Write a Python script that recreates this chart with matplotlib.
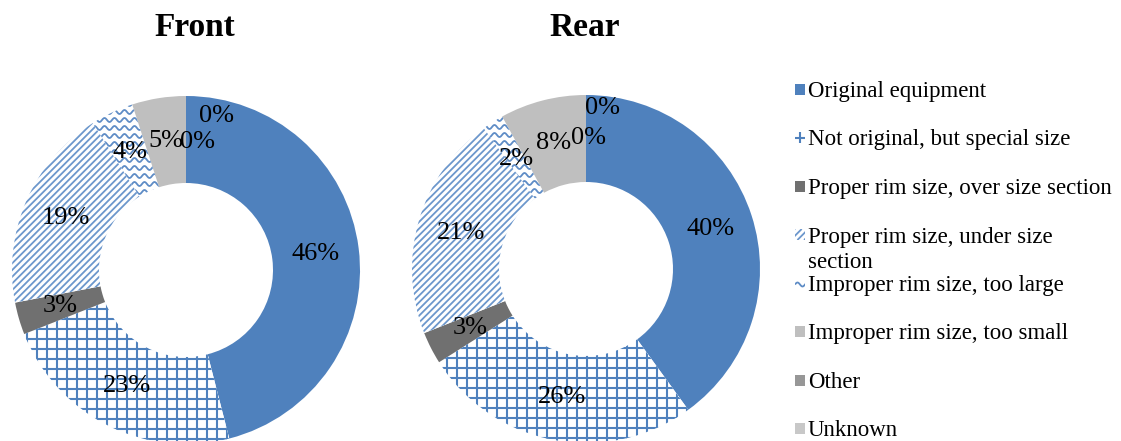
import numpy as np
import matplotlib.pyplot as plt
from matplotlib.patches import Rectangle
from matplotlib.collections import LineCollection

plt.rcParams['font.family'] = ['Liberation Serif', 'DejaVu Serif']

categories = ['Original equipment',
              'Not original, but special size',
              'Proper rim size, over size section',
              'Proper rim size, under size\nsection',
              'Improper rim size, too large',
              'Improper rim size, too small',
              'Other',
              'Unknown']
front = [46, 23, 3, 19, 4, 5, 0, 0]
rear = [40, 26, 3, 21, 2, 8, 0, 0]
titles = ['Front', 'Rear']

blue = '#4F81BD'
face = [blue, 'white', '#707070', 'white', 'white', '#BFBFBF', '#979797', '#C8C8C8']
texture = [None, 'grid', None, 'diag', 'wave', None, None, None]


def add_texture(ax, patch, kind, box):
    # fill a patch with blue line patterns clipped to its outline
    x0, y0, x1, y1 = box
    segs = []
    if kind == 'grid':
        step = 10
        for x in np.arange(x0 + step / 2, x1, step):
            segs.append([(x, y0), (x, y1)])
        for y in np.arange(y0 + step / 2, y1, step):
            segs.append([(x0, y), (x1, y)])
        lw, col = 1.5, blue
    elif kind == 'diag':
        step = 6.7
        h = y1 - y0
        for c in np.arange(-h, x1 - x0 + step, step):
            segs.append([(x0 + c, y0), (x0 + c + h, y1)])
        lw, col = 1.3, '#6C97CC'
    else:
        xs = np.arange(x0, x1 + 1, 0.5)
        for y in np.arange(y0 + 4, y1, 8):
            segs.append(np.column_stack([xs, y + 2 * np.sin(2 * np.pi * (xs - x0) / 10)]))
        lw, col = 1.3, '#5E8CC6'
    lc = LineCollection(segs, colors=col, linewidths=lw)
    # add first, otherwise add_collection swaps the clip for the axes patch
    ax.add_collection(lc, autolim=False)
    lc.set_clip_path(patch.get_path(), patch.get_transform())


fig = plt.figure(figsize=(11.21, 4.41), dpi=100)
ax = fig.add_axes([0, 0, 1, 1])

# donut geometry in pixels (y measured from the bottom)
centers = [(186, 171), (586, 172)]
title_x = [195, 585]
R, W = 174, 87
rm = R - W / 2
# extra shift for the zero labels so they don't sit on top of each other
zero_shift = [{6: (12, -2), 7: (31, 24)}, {6: (2, 0), 7: (17, 30)}]

for k, values in enumerate([front, rear]):
    cx, cy = centers[k]
    wedges, _ = ax.pie(values, startangle=90, counterclock=False, radius=R,
                       center=(cx, cy), colors=face,
                       wedgeprops=dict(width=W, linewidth=0))
    for w, kind in zip(wedges, texture):
        if kind:
            add_texture(ax, w, kind, (cx - R, cy - R, cx + R, cy + R))

    cum = np.cumsum(values)
    for i, v in enumerate(values):
        theta = np.deg2rad(360 * (cum[i] - v / 2) / 100)
        dx, dy = zero_shift[k].get(i, (0, 0))
        ax.text(cx + rm * np.sin(theta) + dx, cy + rm * np.cos(theta) + dy,
                f'{v}%', ha='center', va='center', fontsize=19)

    ax.text(title_x[k], 413, titles[k], ha='center', va='center',
            fontsize=24, fontweight='bold')

# legend drawn by hand, one row per category
for i, label in enumerate(categories):
    yc = 441 - (89 + 48.5 * i)
    sq = Rectangle((795, yc - 5.5), 10, 11, facecolor=face[i], linewidth=0)
    ax.add_patch(sq)
    if texture[i]:
        add_texture(ax, sq, texture[i], (795, yc - 5.5, 805, yc + 5.5))
    for j, line in enumerate(label.split('\n')):
        ax.text(808, yc - 26 * j, line, ha='left', va='center_baseline',
                fontsize=16.5)

ax.set_xlim(0, 1121)
ax.set_ylim(0, 441)
ax.axis('off')
fig.savefig('out.png', dpi=100)
